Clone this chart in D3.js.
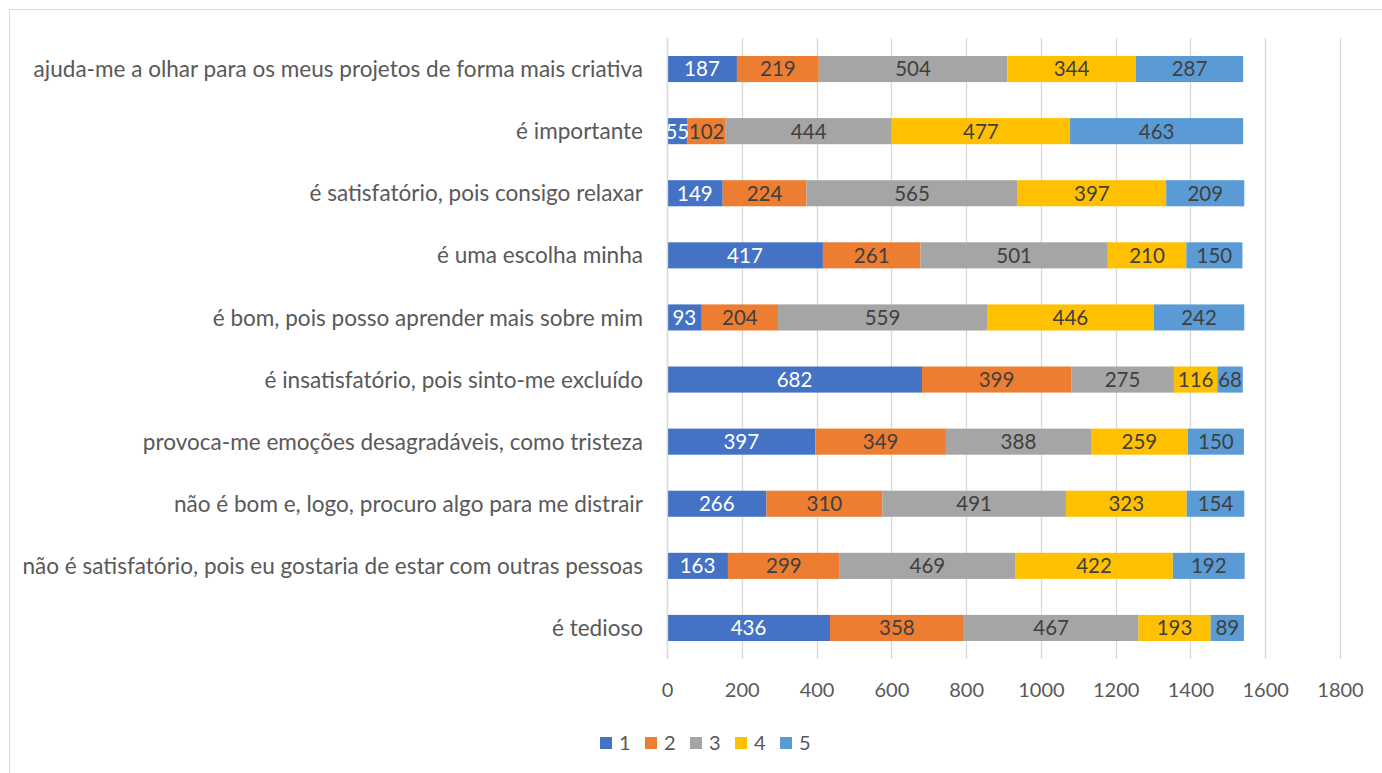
<!DOCTYPE html>
<html>
<head>
<meta charset="utf-8">
<script src="https://cdn.jsdelivr.net/npm/d3@7"></script>
<style>
  html, body { margin: 0; padding: 0; background: #ffffff; }
  svg { display: block; font-family: Lato, "Open Sans", sans-serif; }
</style>
</head>
<body>
<svg id="chart" width="1382" height="773"></svg>
<script>
// ---- data ----
const categories = [
  "ajuda-me a olhar para os meus projetos de forma mais criativa",
  "é importante",
  "é satisfatório, pois consigo relaxar",
  "é uma escolha minha",
  "é bom, pois posso aprender mais sobre mim",
  "é insatisfatório, pois sinto-me excluído",
  "provoca-me emoções desagradáveis, como tristeza",
  "não é bom e, logo, procuro algo para me distrair",
  "não é satisfatório, pois eu gostaria de estar com outras pessoas",
  "é tedioso"
];
const seriesNames = ["1", "2", "3", "4", "5"];
const s1 = [187, 55, 149, 417, 93, 682, 397, 266, 163, 436];
const s2 = [219, 102, 224, 261, 204, 399, 349, 310, 299, 358];
const s3 = [504, 444, 565, 501, 559, 275, 388, 491, 469, 467];
const s4 = [344, 477, 397, 210, 446, 116, 259, 323, 422, 193];
const s5 = [287, 463, 209, 150, 242, 68, 150, 154, 192, 89];
const xTicks = [0, 200, 400, 600, 800, 1000, 1200, 1400, 1600, 1800];

const colors = ["#4472C4", "#ED7D31", "#A5A5A5", "#FFC000", "#5B9BD5"];
const labelColors = ["#ffffff", "#404040", "#404040", "#404040", "#404040"];

// ---- build table ----
const seriesVals = [s1, s2, s3, s4, s5];
const rows = categories.map((c, i) => {
  const r = { cat: c };
  seriesNames.forEach((s, j) => r[s] = seriesVals[j][i]);
  return r;
});
const stacked = d3.stack().keys(seriesNames)(rows);

const svg = d3.select("#chart");

// chart border
svg.append("rect")
  .attr("x", 9.5).attr("y", 9.5)
  .attr("width", 1382).attr("height", 780)
  .attr("fill", "#fff").attr("stroke", "#d9d9d9").attr("stroke-width", 1);

const x = d3.scaleLinear().domain([0, 1800]).range([667, 1340]);
const y = d3.scaleBand().domain(categories).range([38, 659])
  .paddingInner(0.58).paddingOuter(0.29);

// gridlines
svg.append("g").selectAll("line").data(xTicks).join("line")
  .attr("x1", d => Math.round(x(d)) + 0.5).attr("x2", d => Math.round(x(d)) + 0.5)
  .attr("y1", 38).attr("y2", 659)
  .attr("stroke", "#d9d9d9").attr("stroke-width", 1.3);

// x axis labels
const xAxis = d3.axisBottom(x).tickValues(xTicks).tickFormat(d3.format("d")).tickSize(0).tickPadding(0);
const gx = svg.append("g").attr("transform", "translate(0,697)").call(xAxis);
gx.select(".domain").remove();
gx.selectAll("text")
  .attr("dy", 0)
  .attr("fill", "#595959")
  .style("font-size", "20px")
  .style("font-family", "Lato, 'Open Sans', sans-serif");

// bars
const layers = svg.append("g").selectAll("g").data(stacked).join("g")
  .attr("fill", (d, i) => colors[i]);
layers.selectAll("rect").data(d => d).join("rect")
  .attr("x", d => x(d[0]))
  .attr("width", d => x(d[1]) - x(d[0]))
  .attr("y", d => y(d.data.cat))
  .attr("height", y.bandwidth());

// data labels
const lab = svg.append("g").selectAll("g").data(stacked).join("g")
  .attr("fill", (d, i) => labelColors[i]);
lab.selectAll("text").data(d => d).join("text")
  .attr("x", d => (x(d[0]) + x(d[1])) / 2)
  .attr("y", d => y(d.data.cat) + y.bandwidth() / 2)
  .attr("dy", "0.36em")
  .attr("text-anchor", "middle")
  .style("font-size", "20.5px")
  .text(d => d[1] - d[0]);

// category labels
const yAxis = d3.axisLeft(y).tickSize(0).tickPadding(24);
const gy = svg.append("g").attr("transform", "translate(667,0)").call(yAxis);
gy.select(".domain").remove();
gy.selectAll("text")
  .attr("fill", "#595959")
  .attr("dy", "0.36em")
  .style("font-size", "20px")
  .style("font-family", "Lato, 'Open Sans', sans-serif");
// fit the longest label width to the reference (~621px)
let maxW = 0;
gy.selectAll("text").each(function () { maxW = Math.max(maxW, this.getComputedTextLength()); });
const fs = 20 * 621 / maxW;
gy.selectAll("text").style("font-size", fs + "px");

// left axis line
svg.append("line")
  .attr("x1", 667.5).attr("x2", 667.5).attr("y1", 38).attr("y2", 659)
  .attr("stroke", "#d9d9d9").attr("stroke-width", 1.3);

// legend
const leg = svg.append("g").selectAll("g").data(seriesNames).join("g")
  .attr("transform", (d, i) => `translate(${600 + i * 45},737)`);
leg.append("rect").attr("width", 12).attr("height", 12).attr("fill", (d, i) => colors[i]);
leg.append("text").attr("x", 19).attr("y", 6).attr("dy", "0.36em")
  .attr("fill", "#595959").style("font-size", "20px").text(d => d);
</script>
</body>
</html>
